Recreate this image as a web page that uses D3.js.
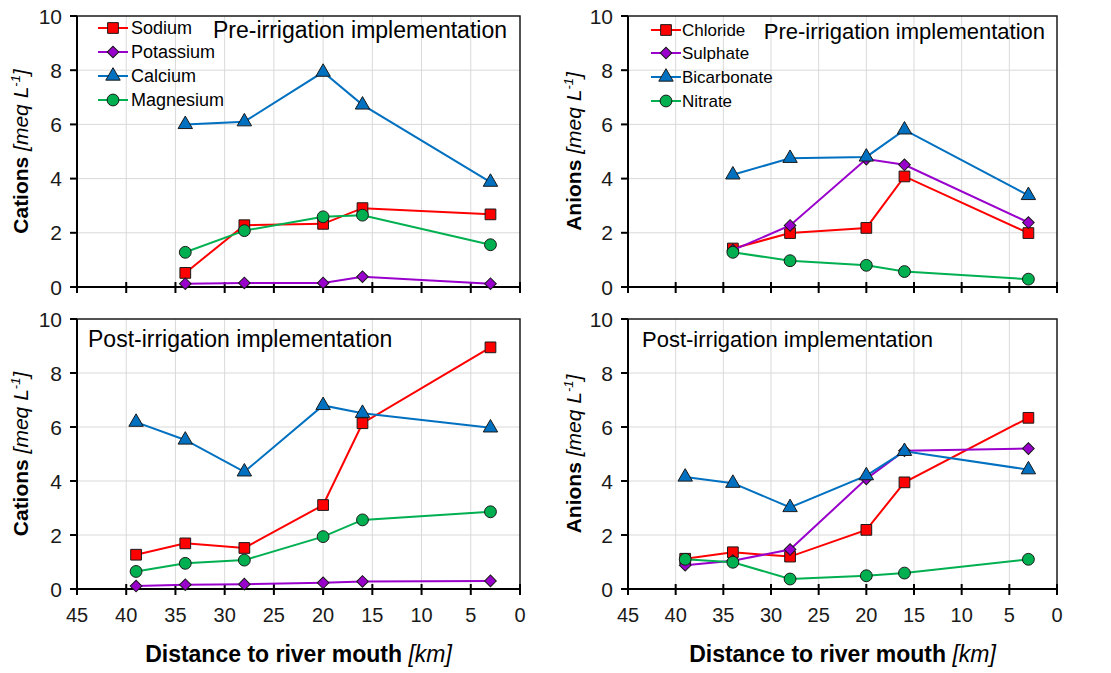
<!DOCTYPE html>
<html>
<head>
<meta charset="utf-8">
<script src="https://cdn.jsdelivr.net/npm/d3@7"></script>
<style>
  body { margin: 0; background: #fff; }
  svg { font-family: "Liberation Sans", Arial, sans-serif; }
</style>
</head>
<body>
<svg id="chart" width="1111" height="673"></svg>
<script>
// distances (km) of the sampling sites
var distPre = [34, 28, 20, 16, 3]
var distPost = [39, 34, 28, 20, 16, 3]

var xTicks = [45, 40, 35, 30, 25, 20, 15, 10, 5, 0]
var yTicks = [0, 2, 4, 6, 8, 10]

var cationNames = ["Sodium", "Potassium", "Calcium", "Magnesium"]
var anionNames = ["Chloride", "Sulphate", "Bicarbonate", "Nitrate"]

// pre-irrigation cations
var sodiumPre = [0.52, 2.28, 2.33, 2.91, 2.68]
var potassiumPre = [0.12, 0.15, 0.15, 0.38, 0.12]
var calciumPre = [6.0, 6.1, 7.93, 6.72, 3.87]
var magnesiumPre = [1.28, 2.08, 2.59, 2.65, 1.56]

// pre-irrigation anions
var chloridePre = [1.42, 1.99, 2.18, 4.08, 1.99]
var sulphatePre = [1.36, 2.27, 4.72, 4.51, 2.38]
var bicarbonatePre = [4.14, 4.75, 4.8, 5.8, 3.38]
var nitratePre = [1.28, 0.97, 0.8, 0.57, 0.29]

// post-irrigation cations
var sodiumPost = [1.27, 1.69, 1.52, 3.11, 6.14, 8.95]
var potassiumPost = [0.11, 0.16, 0.18, 0.23, 0.28, 0.3]
var calciumPost = [6.18, 5.52, 4.34, 6.8, 6.51, 5.97]
var magnesiumPost = [0.65, 0.95, 1.07, 1.94, 2.56, 2.86]

// post-irrigation anions
var chloridePost = [1.12, 1.36, 1.2, 2.19, 3.95, 6.34]
var sulphatePost = [0.88, 1.05, 1.46, 4.08, 5.12, 5.2]
var bicarbonatePost = [4.15, 3.92, 3.02, 4.2, 5.1, 4.42]
var nitratePost = [1.1, 0.99, 0.37, 0.49, 0.59, 1.1]

var colors = ["#ff0000", "#9900cc", "#0070c0", "#00b050"]
var shapes = ["square", "diamond", "triangle", "circle"]

var svg = d3.select("#chart")

var panels = [
    {x0: 77, x1: 520, y0: 16, y1: 287, dist: distPre, names: cationNames,
     series: [sodiumPre, potassiumPre, calciumPre, magnesiumPre],
     ytitle: "Cations", titleTxt: "Pre-irrigation implementation", titleX: 507, titleY: 38, titleAnchor: "end", titleSize: 23,
     legend: {lx: 98, tx: 131, ys: [28, 52, 76, 100], size: 18}, xlabels: false, ytX: 28},
    {x0: 628, x1: 1057, y0: 16, y1: 287, dist: distPre, names: anionNames,
     series: [chloridePre, sulphatePre, bicarbonatePre, nitratePre],
     ytitle: "Anions", titleTxt: "Pre-irrigation implementation", titleX: 1045, titleY: 39, titleAnchor: "end", titleSize: 22,
     legend: {lx: 651, tx: 682, ys: [30, 53, 77, 101], size: 17}, xlabels: false, ytX: 581},
    {x0: 77, x1: 520, y0: 319, y1: 589, dist: distPost, names: cationNames,
     series: [sodiumPost, potassiumPost, calciumPost, magnesiumPost],
     ytitle: "Cations", titleTxt: "Post-irrigation implementation", titleX: 88, titleY: 347, titleAnchor: "start", titleSize: 23,
     legend: null, xlabels: true, ytX: 28},
    {x0: 628, x1: 1057, y0: 319, y1: 589, dist: distPost, names: anionNames,
     series: [chloridePost, sulphatePost, bicarbonatePost, nitratePost],
     ytitle: "Anions", titleTxt: "Post-irrigation implementation", titleX: 642, titleY: 347, titleAnchor: "start", titleSize: 22,
     legend: null, xlabels: true, ytX: 581}
]

function markerPath(shape) {
    if (shape == "square") return d3.symbol().type(d3.symbolSquare).size(115)()
    if (shape == "diamond") return d3.symbol().type(d3.symbolSquare).size(68)()
    if (shape == "triangle") return d3.symbol().type(d3.symbolTriangle).size(90)()
    return d3.symbol().type(d3.symbolCircle).size(110)()
}

function addMarker(g, shape, color, x, y) {
    g.append("path")
        .attr("d", markerPath(shape))
        .attr("transform", "translate(" + x + "," + y + ")" + (shape == "diamond" ? " rotate(45)" : ""))
        .attr("fill", color)
        .attr("stroke", "#1a1a1a")
        .attr("stroke-width", 1)
}

panels.forEach(function(p) {
    var x = d3.scaleLinear().domain([45, 0]).range([p.x0, p.x1])
    var y = d3.scaleLinear().domain([0, 10]).range([p.y1, p.y0])
    var g = svg.append("g")

    // gridlines
    g.selectAll("line.vgrid").data(xTicks.slice(1, -1)).enter().append("line")
        .attr("x1", d => x(d)).attr("x2", d => x(d))
        .attr("y1", p.y0).attr("y2", p.y1)
        .attr("stroke", "#d9d9d9").attr("stroke-width", 1)
    g.selectAll("line.hgrid").data(yTicks.slice(1, -1)).enter().append("line")
        .attr("x1", p.x0).attr("x2", p.x1)
        .attr("y1", d => y(d)).attr("y2", d => y(d))
        .attr("stroke", "#d9d9d9").attr("stroke-width", 1)

    // frame
    g.append("rect")
        .attr("x", p.x0).attr("y", p.y0)
        .attr("width", p.x1 - p.x0).attr("height", p.y1 - p.y0)
        .attr("fill", "none").attr("stroke", "#1a1a1a").attr("stroke-width", 1.5)
    g.append("line").attr("x1", p.x0).attr("x2", p.x1).attr("y1", p.y1).attr("y2", p.y1)
        .attr("stroke", "#000").attr("stroke-width", 2)
    g.append("line").attr("x1", p.x0).attr("x2", p.x0).attr("y1", p.y0).attr("y2", p.y1)
        .attr("stroke", "#000").attr("stroke-width", 2)

    // x ticks cross the axis
    g.selectAll("line.xt").data(xTicks).enter().append("line")
        .attr("x1", d => x(d)).attr("x2", d => x(d))
        .attr("y1", p.y1 - 5).attr("y2", p.y1 + 6)
        .attr("stroke", "#000").attr("stroke-width", 2)
    // y ticks outside
    g.selectAll("line.yt").data(yTicks).enter().append("line")
        .attr("x1", p.x0 - 7).attr("x2", p.x0)
        .attr("y1", d => y(d)).attr("y2", d => y(d))
        .attr("stroke", "#000").attr("stroke-width", 2)

    g.selectAll("text.yl").data(yTicks).enter().append("text")
        .attr("x", p.x0 - 15).attr("y", d => y(d))
        .attr("dy", "0.36em")
        .attr("text-anchor", "end")
        .attr("font-size", 21).attr("fill", "#1a1a1a")
        .text(d => d)

    if (p.xlabels) {
        g.selectAll("text.xl").data(xTicks).enter().append("text")
            .attr("x", d => x(d)).attr("y", 622)
            .attr("text-anchor", "middle")
            .attr("font-size", 20).attr("fill", "#1a1a1a")
            .text(d => d)
        var xt = g.append("text")
            .attr("x", (p.x0 + p.x1) / 2).attr("y", 662)
            .attr("text-anchor", "middle").attr("font-size", 23)
        xt.append("tspan").attr("font-weight", "bold").text("Distance to river mouth ")
        xt.append("tspan").attr("font-style", "italic").text("[km]")
    }

    // y title
    var yt = g.append("text")
        .attr("transform", "translate(" + p.ytX + "," + ((p.y0 + p.y1) / 2) + ") rotate(-90)")
        .attr("text-anchor", "middle").attr("font-size", 21)
    yt.append("tspan").attr("font-weight", "bold").text(p.ytitle + " ")
    yt.append("tspan").attr("font-style", "italic").text("[meq L")
    yt.append("tspan").attr("font-style", "italic").attr("font-size", 13).attr("dy", -8).text("-1")
    yt.append("tspan").attr("font-style", "italic").attr("dy", 8).text("]")

    // series
    p.series.forEach(function(vals, i) {
        var pts = vals.map((v, j) => [x(p.dist[j]), y(v)])
        g.append("path")
            .attr("d", d3.line()(pts))
            .attr("fill", "none")
            .attr("stroke", colors[i])
            .attr("stroke-width", 2)
        pts.forEach(function(pt) { addMarker(g, shapes[i], colors[i], pt[0], pt[1]) })
    })

    // panel title
    g.append("text")
        .attr("x", p.titleX).attr("y", p.titleY)
        .attr("text-anchor", p.titleAnchor)
        .attr("font-size", p.titleSize).attr("fill", "#000")
        .text(p.titleTxt)

    // legend
    if (p.legend) {
        p.names.forEach(function(name, i) {
            var ly = p.legend.ys[i]
            g.append("line")
                .attr("x1", p.legend.lx).attr("x2", p.legend.lx + 30)
                .attr("y1", ly).attr("y2", ly)
                .attr("stroke", colors[i]).attr("stroke-width", 2)
            addMarker(g, shapes[i], colors[i], p.legend.lx + 15, ly)
            g.append("text")
                .attr("x", p.legend.tx).attr("y", ly)
                .attr("dy", "0.36em")
                .attr("font-size", p.legend.size).attr("fill", "#000")
                .text(name)
        })
    }
})
</script>
</body>
</html>
